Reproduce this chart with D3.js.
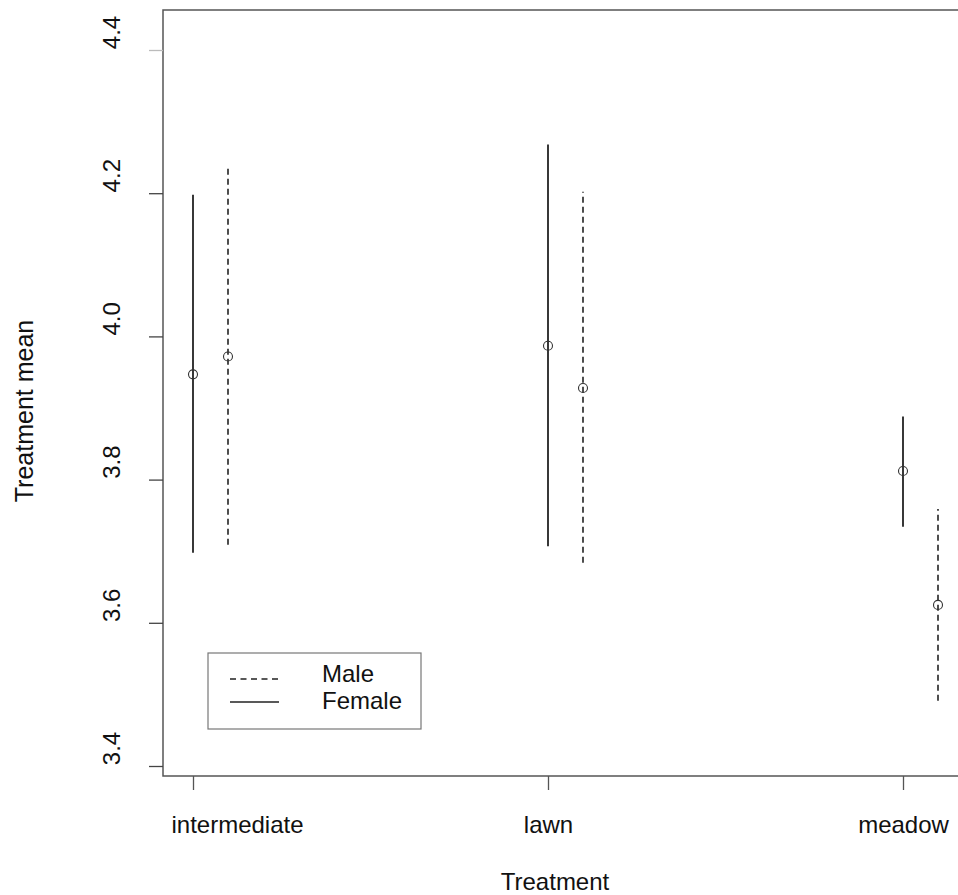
<!DOCTYPE html>
<html>
<head>
<meta charset="utf-8">
<script src="https://cdn.jsdelivr.net/npm/d3@7"></script>
<style>
  html, body { margin: 0; padding: 0; background: #fff; }
  svg { display: block; }
  text { font-family: "Liberation Sans", Arial, sans-serif; fill: #111; }
</style>
</head>
<body>
<svg id="chart" width="958" height="895"></svg>
<script>
// ---- data ----
const categories = ["intermediate", "lawn", "meadow"];
const femaleMean = [3.947, 3.987, 3.812];
const femaleLow  = [3.698, 3.707, 3.734];
const femaleHigh = [4.198, 4.268, 3.888];
const maleMean   = [3.972, 3.928, 3.625];
const maleLow    = [3.709, 3.684, 3.491];
const maleHigh   = [4.234, 4.202, 3.759];
const yTicks = [3.4, 3.6, 3.8, 4.0, 4.2, 4.4];
const yTickLabels = ["3.4", "3.6", "3.8", "4.0", "4.2", "4.4"];
const legendLabels = ["Male", "Female"];

// ---- layout ----
const box = { left: 163, top: 10, right: 962, bottom: 776 };
const maleOffset = 35;
const svg = d3.select("#chart");

const x = d3.scalePoint().domain(categories).range([193, 903]);
const y = d3.scaleLinear().domain([3.4, 4.4]).range([766, 50]);

// plot box
svg.append("rect")
  .attr("x", box.left).attr("y", box.top)
  .attr("width", box.right - box.left).attr("height", box.bottom - box.top)
  .attr("fill", "none").attr("stroke", "#555").attr("stroke-width", 1.5);

// y axis
const yAxis = svg.append("g")
  .attr("transform", `translate(${box.left},0)`)
  .call(d3.axisLeft(y).tickValues(yTicks).tickSize(14)
        .tickFormat((d, i) => yTickLabels[i]));
yAxis.select(".domain").remove();
yAxis.selectAll(".tick line").attr("stroke", (d) => d === 4.4 ? "#bbb" : "#444").attr("stroke-width", 1.3);
yAxis.selectAll(".tick text")
  .attr("x", null).attr("dy", null).attr("y", null)
  .attr("text-anchor", "middle")
  .attr("transform", `translate(${120 - box.left},-18) rotate(-90)`)
  .style("font-size", "24px");

// x axis
const xAxis = svg.append("g")
  .attr("transform", `translate(0,${box.bottom})`)
  .call(d3.axisBottom(x).tickSize(14));
xAxis.select(".domain").remove();
xAxis.selectAll(".tick line").attr("stroke", "#555").attr("stroke-width", 1.3);
xAxis.selectAll(".tick text")
  .attr("y", 57).attr("dy", null)
  .attr("dx", (d, i) => i === 0 ? 44 : 0)
  .style("font-size", "24px");

// axis titles
svg.append("text")
  .attr("x", 555).attr("y", 890)
  .attr("text-anchor", "middle").style("font-size", "24px")
  .text("Treatment");
svg.append("text")
  .attr("transform", "translate(33,411) rotate(-90)")
  .attr("text-anchor", "middle").style("font-size", "25px")
  .text("Treatment mean");

// series
const female = categories.map((c, i) => ({ c, m: femaleMean[i], lo: femaleLow[i], hi: femaleHigh[i] }));
const male = categories.map((c, i) => ({ c, m: maleMean[i], lo: maleLow[i], hi: maleHigh[i] }));

function drawSeries(data, dx, dash) {
  const g = svg.append("g");
  g.selectAll("line").data(data).join("line")
    .attr("x1", d => x(d.c) + dx).attr("x2", d => x(d.c) + dx)
    .attr("y1", d => y(d.lo)).attr("y2", d => y(d.hi))
    .attr("stroke", "#222").attr("stroke-width", dash ? 1.6 : 1.8)
    .attr("stroke-dasharray", dash ? "6,4" : null);
  g.selectAll("circle").data(data).join("circle")
    .attr("cx", d => x(d.c) + dx).attr("cy", d => y(d.m))
    .attr("r", 4.5)
    .attr("fill", "none").attr("stroke", "#333").attr("stroke-width", 1.1);
}
drawSeries(female, 0, false);
drawSeries(male, maleOffset, true);

// legend
const lg = svg.append("g");
lg.append("rect")
  .attr("x", 208).attr("y", 653).attr("width", 213).attr("height", 76)
  .attr("fill", "#fff").attr("stroke", "#777").attr("stroke-width", 1.2);
const legendRows = [{ label: legendLabels[0], dash: true, y: 679 }, { label: legendLabels[1], dash: false, y: 702 }];
legendRows.forEach(r => {
  lg.append("line")
    .attr("x1", 230).attr("x2", 279).attr("y1", r.y).attr("y2", r.y)
    .attr("stroke", "#222").attr("stroke-width", 1.6)
    .attr("stroke-dasharray", r.dash ? "6,4.5" : null);
  lg.append("text")
    .attr("x", 322).attr("y", r.y + 4 + (r.dash ? -1 : 3))
    .style("font-size", "24px")
    .text(r.label);
});
</script>
</body>
</html>
